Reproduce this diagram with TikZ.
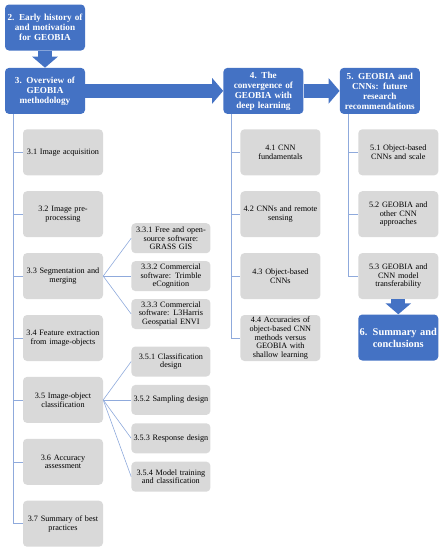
\documentclass[tikz,border=0pt]{standalone}
\usepackage{fontspec}
\setmainfont{Liberation Serif}
\usepackage{xcolor}
\usepackage{tikz}
\usetikzlibrary{arrows.meta, positioning}

\definecolor{secblue}{HTML}{4472C4}
\definecolor{subgray}{HTML}{D9D9D9}
\definecolor{linkblue}{HTML}{8FAADC}

\begin{document}
\begin{tikzpicture}[
  x=1pt, y=-1pt,
  section/.style={rectangle, rounded corners=4pt, fill=secblue,
                  text=white, text width=80pt, minimum height=46pt,
                  inner xsep=0pt, inner ysep=1pt, align=center,
                  font=\fontsize{9.2}{10}\selectfont\bfseries},
  topic/.style={rectangle, rounded corners=4pt, fill=subgray,
                text width=80pt, minimum height=46pt, inner xsep=0pt,
                inner ysep=1pt, align=center,
                font=\fontsize{8.2}{8.6}\selectfont},
  subtopic/.style={topic, text width=79pt, minimum height=30pt},
  link/.style={linkblue, line width=0.6pt},
  bigarr/.style={secblue, line width=14pt,
                 -{Triangle[length=11pt, width=25pt]}},
]
  \useasboundingbox (0,0) rectangle (443,550);

  % main sections
  \node[section] (sec2) at (45,27.5)
        {2. Early history of\\and motivation\\for GEOBIA};
  \node[section, below=17pt of sec2] (sec3)
        {3. Overview of\\GEOBIA\\methodology};
  \node[section, right=138pt of sec3] (sec4)
        {4. The\\convergence of\\GEOBIA with\\deep learning};
  \node[section, right=36pt of sec4] (sec5)
        {5. GEOBIA and\\CNNs: future\\research\\recommendations};

  % section 3 topics
  \node[topic, below=15pt of sec3, xshift=18pt] (t31) {3.1 Image acquisition};
  \node[topic, below=15.5pt of t31] (t32) {3.2 Image pre-\\processing};
  \node[topic, below=15.5pt of t32] (t33) {3.3 Segmentation and\\merging};
  \node[topic, below=15.5pt of t33] (t34)
        {3.4 Feature extraction\\from image-objects};
  \node[topic, below=15.5pt of t34] (t35) {3.5 Image-object\\classification};
  \node[topic, below=15.5pt of t35] (t36) {3.6 Accuracy\\assessment};
  \node[topic, below=15.5pt of t36] (t37) {3.7 Summary of best\\practices};

  % 3.3 subtopics
  \node[subtopic, right=28pt of t33] (t332)
        {3.3.2 Commercial\\software: Trimble\\eCognition};
  \node[subtopic, above=7.5pt of t332] (t331)
        {3.3.1 Free and open-\\source software:\\GRASS GIS};
  \node[subtopic, below=7.5pt of t332] (t333)
        {3.3.3 Commercial\\software: L3Harris\\Geospatial ENVI};

  % 3.5 subtopics
  \node[subtopic, right=28pt of t35] (t352) {3.5.2 Sampling design};
  \node[subtopic, above=8pt of t352] (t351) {3.5.1 Classification\\design};
  \node[subtopic, below=8pt of t352] (t353) {3.5.3 Response design};
  \node[subtopic, below=8pt of t353] (t354)
        {3.5.4 Model training\\and classification};

  % section 4 topics
  \node[topic, below=15pt of sec4, xshift=17pt] (t41) {4.1 CNN\\fundamentals};
  \node[topic, below=15.5pt of t41] (t42) {4.2 CNNs and remote\\sensing};
  \node[topic, below=15.5pt of t42] (t43) {4.3 Object-based\\CNNs};
  \node[topic, below=15.5pt of t43] (t44)
        {4.4 Accuracies of\\object-based CNN\\methods versus\\GEOBIA with\\shallow learning};

  % section 5 topics
  \node[topic, below=15pt of sec5, xshift=18.5pt] (t51)
        {5.1 Object-based\\CNNs and scale};
  \node[topic, below=15.5pt of t51] (t52) {5.2 GEOBIA and\\other CNN\\approaches};
  \node[topic, below=15.5pt of t52] (t53)
        {5.3 GEOBIA and\\CNN model\\transferability};
  \node[section, below=15pt of t53, font=\fontsize{10.4}{12}\selectfont\bfseries]
        (sec6) {6. Summary and\\conclusions};

  % trunk points
  \coordinate (trunk3) at ([xshift=8pt]sec3.south west);
  \coordinate (trunk4) at ([xshift=8pt]sec4.south west);
  \coordinate (trunk5) at ([xshift=9pt]sec5.south west);

  % tree lines
  \foreach \t in {t31, t32, t33, t34, t35, t36, t37}
    \draw[link] (trunk3) |- (\t.west);
  \foreach \t in {t41, t42, t43, t44}
    \draw[link] (trunk4) |- (\t.west);
  \foreach \t in {t51, t52, t53}
    \draw[link] (trunk5) |- (\t.west);
  \foreach \a/\b in {t33/t331, t33/t332, t33/t333,
                      t35/t351, t35/t352, t35/t353, t35/t354}
    \draw[link] (\a.east) -- (\b.west);

  % block arrows
  \draw[bigarr] (sec2.south) -- (sec3.north);
  \draw[bigarr] (sec3.east) -- (sec4.west);
  \draw[bigarr] (sec4.east) -- (sec5.west);
  \draw[bigarr] (t53.south) -- (sec6.north);

\end{tikzpicture}
\end{document}
